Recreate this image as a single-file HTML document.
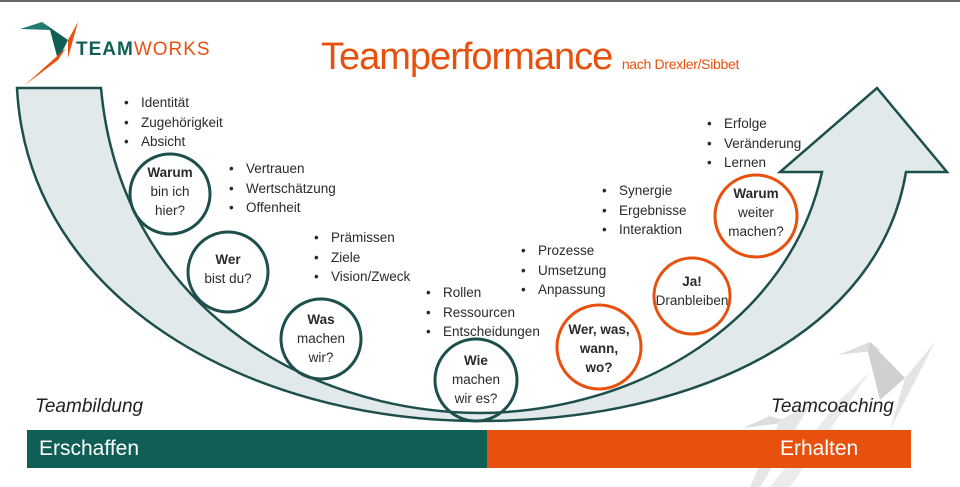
<!DOCTYPE html>
<html><head><meta charset="utf-8"><style>
body{margin:0;width:960px;height:487px;overflow:hidden;background:#fff;font-family:"Liberation Sans",sans-serif;}
.t{position:absolute;font-size:13.5px;color:#2a2a2a;line-height:19.5px;white-space:nowrap}
.t div:before{content:"•";position:absolute;margin-left:-17px}
.c{position:absolute;font-size:13.5px;color:#2a2a2a;line-height:19px;text-align:center;white-space:nowrap}
</style></head><body>
<div style="position:absolute;left:0;top:0;width:960px;height:2px;background:#666"></div>
<svg width="960" height="487" style="position:absolute;left:0;top:0">
<g fill="#ddd">
<polygon points="838,355 870,342 880,350"/>
<polygon points="870,342 905,378 880,400 868,352" fill="#d0d0d0"/>
<polygon points="905,378 935,342 890,430" fill="#e4e4e4"/>
<polygon points="743,428 770,416 790,422"/>
<polygon points="780,420 810,405 760,487 750,487" fill="#e6e6e6"/>
<polygon points="840,400 870,372 790,487 770,487" fill="#ebebeb"/>
</g>
<path d="M17,88 C28,300 250,421 480,421 C700,421 880,330 906,172 L947,172 L877,88 L780,172 L822,172 C790,320 640,412 480,413 C300,412 120,300 101,88 Z" fill="#e2e9ea" stroke="#1d4f4c" stroke-width="2.5" stroke-linejoin="miter"/>
<g fill="none" stroke-width="3">
<circle cx="170" cy="194" r="40" stroke="#1d4f4c"/>
<circle cx="228" cy="272" r="40" stroke="#1d4f4c"/>
<circle cx="321" cy="339" r="40" stroke="#1d4f4c"/>
<circle cx="476" cy="380" r="41" stroke="#1d4f4c"/>
<circle cx="599" cy="347" r="42" stroke="#e8500e"/>
<circle cx="692" cy="296" r="38" stroke="#e8500e"/>
<circle cx="756" cy="216" r="41" stroke="#e8500e"/>
</g>
<polygon points="20,29 42,22 50,30" fill="#237a72"/>
<polygon points="42,22 68,40 58,60 50,30" fill="#0f5f57"/>
<polygon points="68,40 78,22 68,58" fill="#e8500e"/>
<polygon points="58,60 66,48 25,85" fill="#e8500e"/>
</svg>
<div style="position:absolute;left:76px;top:39px;font-size:19px;letter-spacing:1px;"><span style="color:#0f5f57;font-weight:bold">TEAM</span><span style="color:#e8500e">WORKS</span></div>
<div style="position:absolute;left:321px;top:36px;font-size:38px;color:#e8500e;letter-spacing:-1px;white-space:nowrap">Teamperformance <span style="font-size:14px;letter-spacing:-0.3px">nach Drexler/Sibbet</span></div>
<div class="t" style="left:141px;top:93px"><div>Identität</div><div>Zugehörigkeit</div><div>Absicht</div></div>
<div class="t" style="left:246px;top:159px"><div>Vertrauen</div><div>Wertschätzung</div><div>Offenheit</div></div>
<div class="t" style="left:331px;top:228px"><div>Prämissen</div><div>Ziele</div><div>Vision/Zweck</div></div>
<div class="t" style="left:443px;top:283px"><div>Rollen</div><div>Ressourcen</div><div>Entscheidungen</div></div>
<div class="t" style="left:538px;top:241px"><div>Prozesse</div><div>Umsetzung</div><div>Anpassung</div></div>
<div class="t" style="left:619px;top:181px"><div>Synergie</div><div>Ergebnisse</div><div>Interaktion</div></div>
<div class="t" style="left:724px;top:114px"><div>Erfolge</div><div>Veränderung</div><div>Lernen</div></div>
<div class="c" style="left:130px;top:163px;width:80px"><b>Warum</b><br>bin ich<br>hier?</div>
<div class="c" style="left:188px;top:250px;width:80px"><b>Wer</b><br>bist du?</div>
<div class="c" style="left:281px;top:310px;width:80px"><b>Was</b><br>machen<br>wir?</div>
<div class="c" style="left:436px;top:351px;width:80px"><b>Wie</b><br>machen<br>wir es?</div>
<div class="c" style="left:559px;top:320px;width:80px"><b>Wer, was,<br>wann,<br>wo?</b></div>
<div class="c" style="left:652px;top:272px;width:80px"><b>Ja!</b><br>Dranbleiben</div>
<div class="c" style="left:716px;top:184px;width:80px"><b>Warum</b><br>weiter<br>machen?</div>
<div style="position:absolute;left:35px;top:396px;font-size:19px;font-style:italic;color:#222">Teambildung</div>
<div style="position:absolute;left:771px;top:396px;font-size:19px;font-style:italic;color:#222">Teamcoaching</div>
<div style="position:absolute;left:27px;top:430px;width:460px;height:38px;background:#0f5f57;color:#fff;font-size:21px;line-height:38px;box-sizing:border-box;padding-left:12px">Erschaffen</div>
<div style="position:absolute;left:487px;top:430px;width:424px;height:38px;background:#e8500e;color:#fff;font-size:21px;line-height:38px;box-sizing:border-box;padding-left:293px">Erhalten</div>
</body></html>
